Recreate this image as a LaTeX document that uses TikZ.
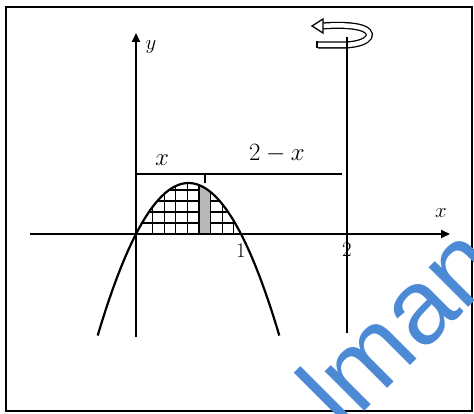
\documentclass[tikz,border=0pt]{standalone}
\usepackage{fontspec}
\newfontfamily\wmfont{Liberation Sans}
\usetikzlibrary{arrows.meta}
\definecolor{wmblue}{HTML}{4C8AD6}
\begin{document}
\begin{tikzpicture}[x=1pt,y=-1pt,
  axis/.style={line width=1.8pt,-{Triangle[length=9pt,width=8pt]}},
  plainline/.style={line width=1.8pt},
  curve/.style={line width=2.2pt},
  gridline/.style={line width=1.1pt},
  lbl/.style={inner sep=0pt, font=\fontsize{24}{28}\selectfont},
  small/.style={inner sep=0pt, font=\fontsize{20}{24}\selectfont}]
\useasboundingbox (0,0) rectangle (474,414);
\fill[white] (0,0) rectangle (474,414);
\draw[line width=2.6pt] (6,7) rectangle (472,411);
% coordinates
\coordinate (O) at (136,234);
\coordinate (xl) at (30,234);
\coordinate (xr) at (450,234);
\coordinate (yb) at (136,337);
\coordinate (yt) at (136,33);
\coordinate (lb) at (347,333);
\coordinate (lt) at (347,37);
\coordinate (bl) at (137,174);
\coordinate (br) at (342,174);
\coordinate (tk1) at (205,173);
\coordinate (tk2) at (205,183);
% grid in region
\begin{scope}
\clip plot[domain=136:241, samples=40] (\x, {234-0.0185*(\x-136)*(241-\x)}) -- cycle;
\foreach \i in {1,...,8} \draw[gridline] ({141+11.6*\i},170) -- ({141+11.6*\i},236);
\foreach \j in {1,...,5} \draw[gridline] (130,{234-11*\j}) -- (250,{234-11*\j});
\fill[gray!55] (199.5,170) rectangle (210,234);
\end{scope}
% axes
\draw[axis] (xl) -- (xr);
\draw[axis] (yb) -- (yt);
% parabola
\draw[curve] plot[domain=97.7:279.3, samples=80] (\x, {234-0.0185*(\x-136)*(241-\x)});
% brace line
\draw[line width=1.3pt] (bl) -- (br);
\draw[line width=1.3pt] (tk1) -- (tk2);
% rotation symbol
\draw[line width=1.3pt, double=white, double distance=4.5pt] (318,45) -- (345,45) .. controls (372,44) and (377,31) .. (358,27) .. controls (348,25) and (335,25) .. (322,26);
\draw[line width=1.3pt] (317,41.5) -- (317,48.5);
\filldraw[fill=white, line width=1.3pt] (312,26) -- (323,19) -- (323,33) -- cycle;
% x = 2 line
\draw[plainline] (lb) -- (lt);
% labels
\node[lbl] (lx) at (162,160) {$x$};
\node[lbl] (l2x) at (277,154) {$2 - x$};
\node[small] (ly) at (151,47) {$y$};
\node[small] (lxa) at (441,213) {$x$};
\node[small] (l1) at (241,251) {$1$};
\node[small] (l2) at (347,250) {$2$};
% watermark
\begin{scope}
\clip (0,0) rectangle (474,414);
\node[rotate=45, anchor=base west, inner sep=0pt, text=wmblue, font=\wmfont\fontsize{106}{110}\selectfont] (wm) at (343,433) {lman};
\end{scope}
\end{tikzpicture}
\end{document}
